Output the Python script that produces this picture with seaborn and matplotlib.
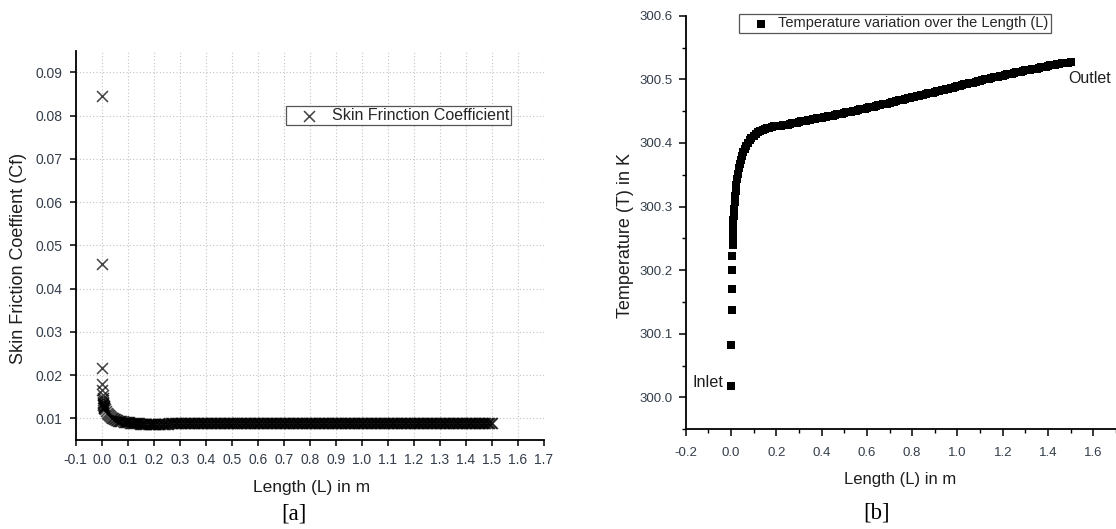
import matplotlib
matplotlib.use("Agg")
import matplotlib.pyplot as plt
import seaborn as sns
import pandas as pd
from matplotlib.ticker import FormatStrFormatter, FixedLocator

# ---------------- data: panel [a] skin friction ----------------
cf_x_inlet = [0.0010, 0.0015, 0.0020, 0.0025, 0.0030, 0.0035, 0.0040, 0.0045, 0.0050,
              0.0055, 0.0060, 0.0065, 0.0070, 0.0075, 0.0080, 0.0090, 0.0100]
cf_y_inlet = [0.0846, 0.0457, 0.0216, 0.0179, 0.0166, 0.0154, 0.0147, 0.0142, 0.0138,
              0.0135, 0.0133, 0.0131, 0.0129, 0.0128, 0.0127, 0.0125, 0.0123]
cf_x_decay = [0.012, 0.016, 0.020, 0.024, 0.028, 0.032, 0.036, 0.040, 0.044, 0.048,
              0.052, 0.056, 0.060, 0.064, 0.068, 0.072, 0.076, 0.080, 0.084, 0.088,
              0.092, 0.096, 0.100, 0.104, 0.108, 0.112, 0.116, 0.120, 0.124, 0.128,
              0.132, 0.136, 0.140, 0.144, 0.148, 0.152, 0.156, 0.160, 0.164, 0.168,
              0.172, 0.176, 0.180, 0.184, 0.188, 0.192, 0.196, 0.200]
cf_y_decay = [0.0122, 0.0117, 0.0113, 0.0110, 0.0107, 0.0105, 0.0103, 0.0101, 0.0100, 0.0099,
              0.0098, 0.0097, 0.0096, 0.0095, 0.0095, 0.0094, 0.0093, 0.0093, 0.0092, 0.0092,
              0.0092, 0.0091, 0.0091, 0.0091, 0.0090, 0.0090, 0.0090, 0.0090, 0.0089, 0.0089,
              0.0089, 0.0089, 0.0089, 0.0089, 0.0088, 0.0088, 0.0088, 0.0088, 0.0088, 0.0088,
              0.0088, 0.0088, 0.0088, 0.0088, 0.0088, 0.0088, 0.0088, 0.0088]
cf_x_flat = [0.205, 0.210, 0.215, 0.220, 0.225, 0.230, 0.235, 0.240, 0.245, 0.250,
             0.255, 0.260, 0.265, 0.270, 0.275, 0.280, 0.285, 0.290, 0.295, 0.300,
             0.305, 0.310, 0.315, 0.320, 0.325, 0.330, 0.335, 0.340, 0.345, 0.350,
             0.355, 0.360, 0.365, 0.370, 0.375, 0.380, 0.385, 0.390, 0.395, 0.400,
             0.405, 0.410, 0.415, 0.420, 0.425, 0.430, 0.435, 0.440, 0.445, 0.450,
             0.455, 0.460, 0.465, 0.470, 0.475, 0.480, 0.485, 0.490, 0.495, 0.500,
             0.505, 0.510, 0.515, 0.520, 0.525, 0.530, 0.535, 0.540, 0.545, 0.550,
             0.555, 0.560, 0.565, 0.570, 0.575, 0.580, 0.585, 0.590, 0.595, 0.600,
             0.605, 0.610, 0.615, 0.620, 0.625, 0.630, 0.635, 0.640, 0.645, 0.650,
             0.655, 0.660, 0.665, 0.670, 0.675, 0.680, 0.685, 0.690, 0.695, 0.700,
             0.705, 0.710, 0.715, 0.720, 0.725, 0.730, 0.735, 0.740, 0.745, 0.750,
             0.755, 0.760, 0.765, 0.770, 0.775, 0.780, 0.785, 0.790, 0.795, 0.800,
             0.805, 0.810, 0.815, 0.820, 0.825, 0.830, 0.835, 0.840, 0.845, 0.850,
             0.855, 0.860, 0.865, 0.870, 0.875, 0.880, 0.885, 0.890, 0.895, 0.900,
             0.905, 0.910, 0.915, 0.920, 0.925, 0.930, 0.935, 0.940, 0.945, 0.950,
             0.955, 0.960, 0.965, 0.970, 0.975, 0.980, 0.985, 0.990, 0.995, 1.000,
             1.005, 1.010, 1.015, 1.020, 1.025, 1.030, 1.035, 1.040, 1.045, 1.050,
             1.055, 1.060, 1.065, 1.070, 1.075, 1.080, 1.085, 1.090, 1.095, 1.100,
             1.105, 1.110, 1.115, 1.120, 1.125, 1.130, 1.135, 1.140, 1.145, 1.150,
             1.155, 1.160, 1.165, 1.170, 1.175, 1.180, 1.185, 1.190, 1.195, 1.200,
             1.205, 1.210, 1.215, 1.220, 1.225, 1.230, 1.235, 1.240, 1.245, 1.250,
             1.255, 1.260, 1.265, 1.270, 1.275, 1.280, 1.285, 1.290, 1.295, 1.300,
             1.305, 1.310, 1.315, 1.320, 1.325, 1.330, 1.335, 1.340, 1.345, 1.350,
             1.355, 1.360, 1.365, 1.370, 1.375, 1.380, 1.385, 1.390, 1.395, 1.400,
             1.405, 1.410, 1.415, 1.420, 1.425, 1.430, 1.435, 1.440, 1.445, 1.450,
             1.455, 1.460, 1.465, 1.470, 1.475, 1.480, 1.485, 1.490, 1.495, 1.500]
cf_y_flat = [0.0088, 0.0088, 0.0088, 0.0088, 0.0088, 0.0088, 0.0088, 0.0088, 0.0088, 0.0088,
             0.0088, 0.0089, 0.0089, 0.0089, 0.0089, 0.0089, 0.0089, 0.0089, 0.0089, 0.0089,
             0.0089, 0.0089, 0.0089, 0.0089, 0.0089, 0.0089, 0.0089, 0.0089, 0.0089, 0.0089,
             0.0089, 0.0089, 0.0089, 0.0089, 0.0089, 0.0089, 0.0089, 0.0089, 0.0089, 0.0089,
             0.0089, 0.0089, 0.0089, 0.0089, 0.0089, 0.0089, 0.0089, 0.0089, 0.0089, 0.0089,
             0.0089, 0.0089, 0.0089, 0.0089, 0.0089, 0.0089, 0.0089, 0.0089, 0.0089, 0.0089,
             0.0089, 0.0089, 0.0089, 0.0089, 0.0089, 0.0089, 0.0089, 0.0089, 0.0089, 0.0089,
             0.0089, 0.0089, 0.0089, 0.0089, 0.0089, 0.0089, 0.0089, 0.0089, 0.0089, 0.0089,
             0.0089, 0.0089, 0.0089, 0.0089, 0.0089, 0.0089, 0.0089, 0.0089, 0.0089, 0.0089,
             0.0089, 0.0089, 0.0089, 0.0089, 0.0089, 0.0089, 0.0089, 0.0089, 0.0089, 0.0089,
             0.0089, 0.0089, 0.0089, 0.0089, 0.0089, 0.0089, 0.0089, 0.0089, 0.0089, 0.0089,
             0.0089, 0.0089, 0.0089, 0.0089, 0.0089, 0.0089, 0.0089, 0.0089, 0.0089, 0.0089,
             0.0089, 0.0089, 0.0089, 0.0089, 0.0089, 0.0089, 0.0089, 0.0089, 0.0089, 0.0089,
             0.0089, 0.0089, 0.0089, 0.0089, 0.0089, 0.0089, 0.0089, 0.0089, 0.0089, 0.0089,
             0.0089, 0.0089, 0.0089, 0.0089, 0.0089, 0.0089, 0.0089, 0.0089, 0.0089, 0.0089,
             0.0089, 0.0089, 0.0089, 0.0089, 0.0089, 0.0089, 0.0089, 0.0089, 0.0089, 0.0089,
             0.0089, 0.0089, 0.0089, 0.0089, 0.0089, 0.0089, 0.0089, 0.0089, 0.0089, 0.0089,
             0.0089, 0.0089, 0.0089, 0.0089, 0.0089, 0.0089, 0.0089, 0.0089, 0.0089, 0.0089,
             0.0089, 0.0089, 0.0089, 0.0089, 0.0089, 0.0089, 0.0089, 0.0089, 0.0089, 0.0089,
             0.0089, 0.0089, 0.0089, 0.0089, 0.0089, 0.0089, 0.0089, 0.0089, 0.0089, 0.0089,
             0.0089, 0.0089, 0.0089, 0.0089, 0.0089, 0.0089, 0.0089, 0.0089, 0.0089, 0.0089,
             0.0089, 0.0089, 0.0089, 0.0089, 0.0089, 0.0089, 0.0089, 0.0089, 0.0089, 0.0089,
             0.0089, 0.0089, 0.0089, 0.0089, 0.0089, 0.0089, 0.0089, 0.0089, 0.0089, 0.0089,
             0.0089, 0.0089, 0.0089, 0.0089, 0.0089, 0.0089, 0.0089, 0.0089, 0.0089, 0.0089,
             0.0089, 0.0089, 0.0089, 0.0089, 0.0089, 0.0089, 0.0089, 0.0089, 0.0089, 0.0089,
             0.0089, 0.0089, 0.0089, 0.0089, 0.0089, 0.0089, 0.0089, 0.0089, 0.0089, 0.0089]

# ---------------- data: panel [b] temperature ----------------
t_x_inlet = [0.001, 0.002, 0.003, 0.004, 0.005, 0.006, 0.007, 0.008, 0.009, 0.010,
             0.011, 0.012, 0.014, 0.016, 0.018, 0.020, 0.023, 0.026, 0.030, 0.034,
             0.038, 0.043, 0.048, 0.054, 0.060, 0.067, 0.074, 0.082, 0.090, 0.100,
             0.110, 0.120, 0.130, 0.140, 0.150, 0.160, 0.170, 0.180, 0.190, 0.200]
t_y_inlet = [300.018, 300.082, 300.137, 300.171, 300.200, 300.222, 300.240, 300.252, 300.262, 300.271,
             300.279, 300.286, 300.297, 300.307, 300.316, 300.324, 300.334, 300.343, 300.352, 300.360,
             300.367, 300.374, 300.380, 300.386, 300.391, 300.396, 300.400, 300.404, 300.408, 300.411,
             300.414, 300.417, 300.419, 300.421, 300.422, 300.423, 300.424, 300.425, 300.426, 300.426]
t_x_duct = [0.21, 0.22, 0.23, 0.24, 0.25, 0.26, 0.27, 0.28, 0.29, 0.30,
            0.31, 0.32, 0.33, 0.34, 0.35, 0.36, 0.37, 0.38, 0.39, 0.40,
            0.41, 0.42, 0.43, 0.44, 0.45, 0.46, 0.47, 0.48, 0.49, 0.50,
            0.51, 0.52, 0.53, 0.54, 0.55, 0.56, 0.57, 0.58, 0.59, 0.60,
            0.61, 0.62, 0.63, 0.64, 0.65, 0.66, 0.67, 0.68, 0.69, 0.70,
            0.71, 0.72, 0.73, 0.74, 0.75, 0.76, 0.77, 0.78, 0.79, 0.80,
            0.81, 0.82, 0.83, 0.84, 0.85, 0.86, 0.87, 0.88, 0.89, 0.90,
            0.91, 0.92, 0.93, 0.94, 0.95, 0.96, 0.97, 0.98, 0.99, 1.00,
            1.01, 1.02, 1.03, 1.04, 1.05, 1.06, 1.07, 1.08, 1.09, 1.10,
            1.11, 1.12, 1.13, 1.14, 1.15, 1.16, 1.17, 1.18, 1.19, 1.20,
            1.21, 1.22, 1.23, 1.24, 1.25, 1.26, 1.27, 1.28, 1.29, 1.30,
            1.31, 1.32, 1.33, 1.34, 1.35, 1.36, 1.37, 1.38, 1.39, 1.40,
            1.41, 1.42, 1.43, 1.44, 1.45, 1.46, 1.47, 1.48, 1.49, 1.50]
t_y_duct = [300.427, 300.427, 300.428, 300.429, 300.429, 300.430, 300.431, 300.432, 300.432, 300.433,
            300.434, 300.434, 300.435, 300.436, 300.436, 300.437, 300.438, 300.439, 300.439, 300.440,
            300.441, 300.441, 300.442, 300.443, 300.443, 300.444, 300.445, 300.446, 300.446, 300.447,
            300.448, 300.449, 300.449, 300.450, 300.451, 300.452, 300.453, 300.453, 300.454, 300.455,
            300.456, 300.457, 300.457, 300.458, 300.459, 300.460, 300.461, 300.461, 300.462, 300.463,
            300.464, 300.465, 300.466, 300.467, 300.468, 300.468, 300.469, 300.470, 300.471, 300.472,
            300.473, 300.474, 300.474, 300.475, 300.476, 300.477, 300.478, 300.478, 300.479, 300.480,
            300.481, 300.482, 300.483, 300.484, 300.485, 300.485, 300.486, 300.487, 300.488, 300.489,
            300.490, 300.491, 300.492, 300.493, 300.494, 300.494, 300.495, 300.496, 300.497, 300.498,
            300.499, 300.500, 300.500, 300.501, 300.502, 300.503, 300.504, 300.504, 300.505, 300.506,
            300.507, 300.508, 300.508, 300.509, 300.510, 300.511, 300.512, 300.512, 300.513, 300.514,
            300.515, 300.515, 300.516, 300.517, 300.517, 300.518, 300.519, 300.520, 300.520, 300.521,
            300.522, 300.522, 300.523, 300.524, 300.524, 300.525, 300.525, 300.526, 300.526, 300.527]

cf_df = pd.DataFrame({"L": cf_x_inlet + cf_x_decay + cf_x_flat,
                      "Cf": cf_y_inlet + cf_y_decay + cf_y_flat})
t_df = pd.DataFrame({"L": t_x_inlet + t_x_duct, "T": t_y_inlet + t_y_duct})

# ---------------- style ----------------
sns.set_style("ticks")
plt.rcParams['font.family'] = ['Liberation Sans', 'DejaVu Sans']
plt.rcParams['axes.unicode_minus'] = False

W, H = 1116, 529
fig = plt.figure(figsize=(W / 100, H / 100), dpi=100)

def frac_box(x0, x1, ytop, ybot):
    return [x0 / W, 1 - ybot / H, (x1 - x0) / W, (ybot - ytop) / H]

tick_col = "#333d4a"
lab_col = "#1e1e1e"

# ---------------- panel [a] ----------------
ax1 = fig.add_axes(frac_box(75.7, 544.0, 50.7, 440.0))
sns.scatterplot(data=cf_df, x="L", y="Cf", ax=ax1, marker="x", s=62,
                color="black", alpha=0.72, linewidth=1.15,
                label="Skin Frinction Coefficient", legend=False, zorder=3)
ax1.set_xlim(-0.1, 1.7)
ax1.set_ylim(0.005, 0.095)
ax1.xaxis.set_major_locator(FixedLocator([round(-0.1 + 0.1 * i, 1) for i in range(19)]))
ax1.xaxis.set_major_formatter(FormatStrFormatter("%.1f"))
ax1.yaxis.set_major_locator(FixedLocator([0.01, 0.02, 0.03, 0.04, 0.05, 0.06, 0.07, 0.08, 0.09]))
ax1.yaxis.set_major_formatter(FormatStrFormatter("%.2f"))
ax1.grid(True, color="#c4c4c4", linestyle=(0, (1, 2)), linewidth=0.8, zorder=0)
for s in ["top", "right"]:
    ax1.spines[s].set_visible(False)
for s in ["left", "bottom"]:
    ax1.spines[s].set_linewidth(1.3)
    ax1.spines[s].set_color("black")
ax1.tick_params(axis="both", direction="out", length=4, width=1.1, color="black",
                labelsize=10, labelcolor=tick_col)
ax1.tick_params(axis="x", pad=5)
ax1.tick_params(axis="y", pad=5.5)
ax1.set_xlabel("Length (L) in m", fontsize=12.5, color=lab_col, va="center")
ax1.set_ylabel("Skin Friction Coeffient (Cf)", fontsize=13, color=lab_col, va="center")
ax1.xaxis.set_label_coords(0.5046, -0.123)
ax1.yaxis.set_label_coords(-0.123, 0.4675)
leg1 = ax1.legend(loc="upper left", bbox_to_anchor=(0.449, 0.858), fontsize=11.5,
                  frameon=True, fancybox=False, borderpad=0.12, handlelength=2.7,
                  handletextpad=0.05, borderaxespad=0, scatterpoints=1)
leg1.get_frame().set_edgecolor("#555555")
leg1.get_frame().set_linewidth(0.9)
leg1.get_frame().set_alpha(1)

# ---------------- panel [b] ----------------
ax2 = fig.add_axes(frac_box(685.7, 1116.0, 15.7, 429.3))
sns.scatterplot(data=t_df, x="L", y="T", ax=ax2, marker="s", s=32,
                color="black", edgecolor="black", linewidth=0,
                label="Temperature variation over the Length (L)", legend=False, zorder=3)
ax2.set_xlim(-0.2, 1.7)
ax2.set_ylim(299.95, 300.6)
ax2.xaxis.set_major_locator(FixedLocator([round(-0.2 + 0.2 * i, 1) for i in range(10)]))
ax2.xaxis.set_minor_locator(FixedLocator([round(-0.1 + 0.2 * i, 1) for i in range(10)]))
ax2.xaxis.set_major_formatter(FormatStrFormatter("%.1f"))
ax2.yaxis.set_major_locator(FixedLocator([300.0, 300.1, 300.2, 300.3, 300.4, 300.5, 300.6]))
ax2.yaxis.set_minor_locator(FixedLocator([299.95, 300.05, 300.15, 300.25, 300.35, 300.45, 300.55]))
ax2.yaxis.set_major_formatter(FormatStrFormatter("%.1f"))
ax2.grid(False)
for s in ["top", "right"]:
    ax2.spines[s].set_visible(False)
for s in ["left", "bottom"]:
    ax2.spines[s].set_linewidth(1.3)
    ax2.spines[s].set_color("black")
ax2.tick_params(axis="both", which="major", direction="out", length=5, width=1.1,
                color="black", labelsize=9.5, labelcolor=tick_col)
ax2.tick_params(axis="both", which="minor", direction="out", length=3, width=1.0, color="black")
ax2.tick_params(axis="x", which="major", pad=8)
ax2.tick_params(axis="y", which="major", pad=4.5)
ax2.set_xlabel("Length (L) in m", fontsize=12, color=lab_col, va="center")
ax2.set_ylabel("Temperature (T) in K", fontsize=13, color=lab_col, va="center")
ax2.xaxis.set_label_coords(0.498, -0.1202)
ax2.yaxis.set_label_coords(-0.1397, 0.4674)
leg2 = ax2.legend(loc="upper left", bbox_to_anchor=(0.1239, 1.0053), fontsize=10.5,
                  frameon=True, fancybox=False, borderpad=0.2, handlelength=2.67,
                  handletextpad=-0.2, borderaxespad=0, scatterpoints=1)
leg2.get_frame().set_edgecolor("#555555")
leg2.get_frame().set_linewidth(0.9)
leg2.get_frame().set_alpha(1)
ax2.text(-0.035, 300.024, "Inlet", ha="right", va="center", fontsize=11.7, color=lab_col)
ax2.text(1.488, 300.501, "Outlet", ha="left", va="center", fontsize=11.5, color=lab_col)

# ---------------- panel captions ----------------
fig.text(294 / W, 1 - 513.6 / H, "[a]", ha="center", va="center", fontsize=16.5,
         family=["Liberation Serif", "DejaVu Serif"], color="black")
fig.text(877 / W, 1 - 513 / H, "[b]", ha="center", va="center", fontsize=16.5,
         family=["Liberation Serif", "DejaVu Serif"], color="black")

fig.savefig("out.png", dpi=100, facecolor="white")
